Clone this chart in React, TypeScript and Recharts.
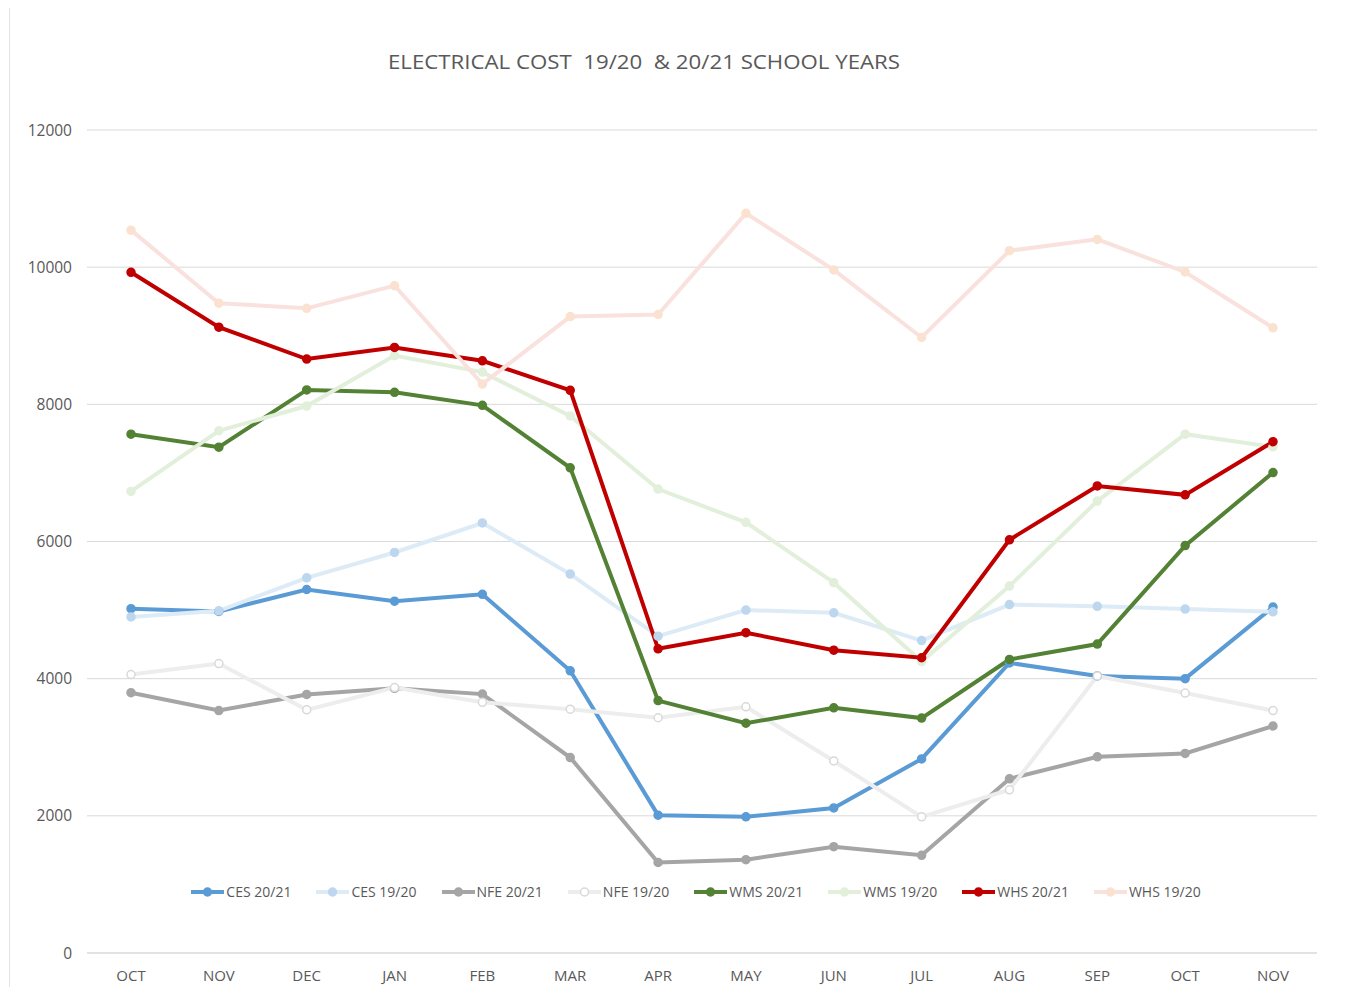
import React from 'react';
import { LineChart, Line, XAxis, YAxis, CartesianGrid } from 'recharts';

const months = ['OCT', 'NOV', 'DEC', 'JAN', 'FEB', 'MAR', 'APR', 'MAY', 'JUN', 'JUL', 'AUG', 'SEP', 'OCT', 'NOV'];
const yTicks = [0, 2000, 4000, 6000, 8000, 10000, 12000];

const ces2021 = [5020, 4980, 5300, 5130, 5230, 4115, 2010, 1985, 2115, 2830, 4230, 4040, 4000, 5045];
const ces1920 = [4900, 4990, 5470, 5840, 6270, 5525, 4620, 5000, 4960, 4555, 5080, 5055, 5015, 4975];
const nfe2021 = [3795, 3535, 3770, 3860, 3775, 2850, 1320, 1360, 1550, 1425, 2540, 2860, 2910, 3310];
const nfe1920 = [4060, 4220, 3545, 3870, 3655, 3555, 3430, 3590, 2800, 1985, 2380, 4040, 3790, 3535];
const wms2021 = [7565, 7375, 8210, 8175, 7985, 7075, 3680, 3350, 3575, 3425, 4280, 4505, 5940, 7005];
const wms1920 = [6730, 7615, 7975, 8710, 8470, 7830, 6765, 6280, 5400, 4250, 5350, 6590, 7565, 7380];
const whs2021 = [9925, 9125, 8660, 8830, 8635, 8205, 4435, 4670, 4415, 4305, 6025, 6810, 6680, 7455];
const whs1920 = [10540, 9475, 9400, 9730, 8295, 9280, 9310, 10785, 9960, 8975, 10240, 10405, 9930, 9115];

const series = [
  { key: 'ces2021', name: 'CES 20/21', values: ces2021, line: '#5B9BD5', dotFill: '#5B9BD5', dotStroke: '#5B9BD5' },
  { key: 'ces1920', name: 'CES 19/20', values: ces1920, line: '#DDEBF7', dotFill: '#BDD7EE', dotStroke: '#BDD7EE' },
  { key: 'nfe2021', name: 'NFE 20/21', values: nfe2021, line: '#A5A5A5', dotFill: '#A5A5A5', dotStroke: '#A5A5A5' },
  { key: 'nfe1920', name: 'NFE 19/20', values: nfe1920, line: '#EDEDED', dotFill: '#FFFFFF', dotStroke: '#D9D9D9' },
  { key: 'wms2021', name: 'WMS 20/21', values: wms2021, line: '#548235', dotFill: '#548235', dotStroke: '#548235' },
  { key: 'wms1920', name: 'WMS 19/20', values: wms1920, line: '#E2EFDA', dotFill: '#E2EFDA', dotStroke: '#E2EFDA' },
  { key: 'whs2021', name: 'WHS 20/21', values: whs2021, line: '#C00000', dotFill: '#C00000', dotStroke: '#C00000' },
  { key: 'whs1920', name: 'WHS 19/20', values: whs1920, line: '#F9E1DD', dotFill: '#FBE2D0', dotStroke: '#FBE2D0' },
];

const data = months.map((m, i) => {
  const row: any = { month: m };
  series.forEach((s) => {
    row[s.key] = s.values[i];
  });
  return row;
});

const FONT = '"Open Sans", "Noto Sans", sans-serif';
const TEXT = '#595959';

const LegendBlock = () => (
  <div
    style={{
      position: 'absolute',
      top: 874,
      left: 0,
      width: 1376,
      display: 'flex',
      justifyContent: 'center',
      alignItems: 'center',
      gap: 25,
      fontFamily: FONT,
      fontSize: 14,
      color: TEXT,
      whiteSpace: 'nowrap',
    }}
  >
    {series.map((s) => (
      <div key={s.key} style={{ display: 'flex', alignItems: 'center' }}>
        <svg width={33} height={12} style={{ marginRight: 2 }}>
          <line x1={0} y1={6} x2={33} y2={6} stroke={s.line} strokeWidth={4} />
          <circle cx={16.5} cy={6} r={4} fill={s.dotFill} stroke={s.dotStroke} strokeWidth={1.5} />
        </svg>
        <span>{s.name}</span>
      </div>
    ))}
  </div>
);

export default function App() {
  return (
    <div style={{ position: 'relative', width: 1346, height: 979, background: '#ffffff' }}>
      <div style={{ position: 'absolute', left: 1, top: -6, width: 1, height: 990, background: '#e3e3e3' }} />
      <div style={{ position: 'absolute', left: 1, top: -5, width: 1345, height: 1, background: '#e3e3e3' }} />
      <svg style={{ position: 'absolute', left: 0, top: 0 }} width={1346} height={100}>
        <text
          x={380}
          y={61}
          textLength={512}
          lengthAdjust="spacingAndGlyphs"
          fontFamily={FONT}
          fontSize={20}
          fill={TEXT}
          style={{ whiteSpace: 'pre' }}
        >
          {'ELECTRICAL COST  19/20  & 20/21 SCHOOL YEARS'}
        </text>
      </svg>
      <LineChart
        width={1346}
        height={979}
        data={data}
        margin={{ top: 122, right: 37, bottom: 0, left: 0 }}
      >
        <CartesianGrid horizontal vertical={false} stroke="#d9d9d9" strokeWidth={1} />
        <XAxis
          dataKey="month"
          allowDuplicatedCategory
          padding={{ left: 44, right: 44 }}
          axisLine={{ stroke: '#d9d9d9' }}
          tickLine={false}
          tickSize={0}
          tickMargin={17}
          height={34}
          interval={0}
          tick={{ fill: TEXT, fontSize: 15, fontFamily: FONT }}
        />
        <YAxis
          domain={[0, 12000]}
          ticks={yTicks}
          width={79}
          axisLine={false}
          tickLine={false}
          tickSize={0}
          tickMargin={15}
          tick={{ fill: TEXT, fontSize: 15.5, fontFamily: FONT }}
        />
        {series.map((s) => (
          <Line
            key={s.key}
            type="linear"
            dataKey={s.key}
            name={s.name}
            stroke={s.line}
            strokeWidth={4}
            dot={{ r: 4, fill: s.dotFill, stroke: s.dotStroke, strokeWidth: 1.5 }}
            activeDot={false}
            isAnimationActive={false}
          />
        ))}
      </LineChart>
      <LegendBlock />
    </div>
  );
}
